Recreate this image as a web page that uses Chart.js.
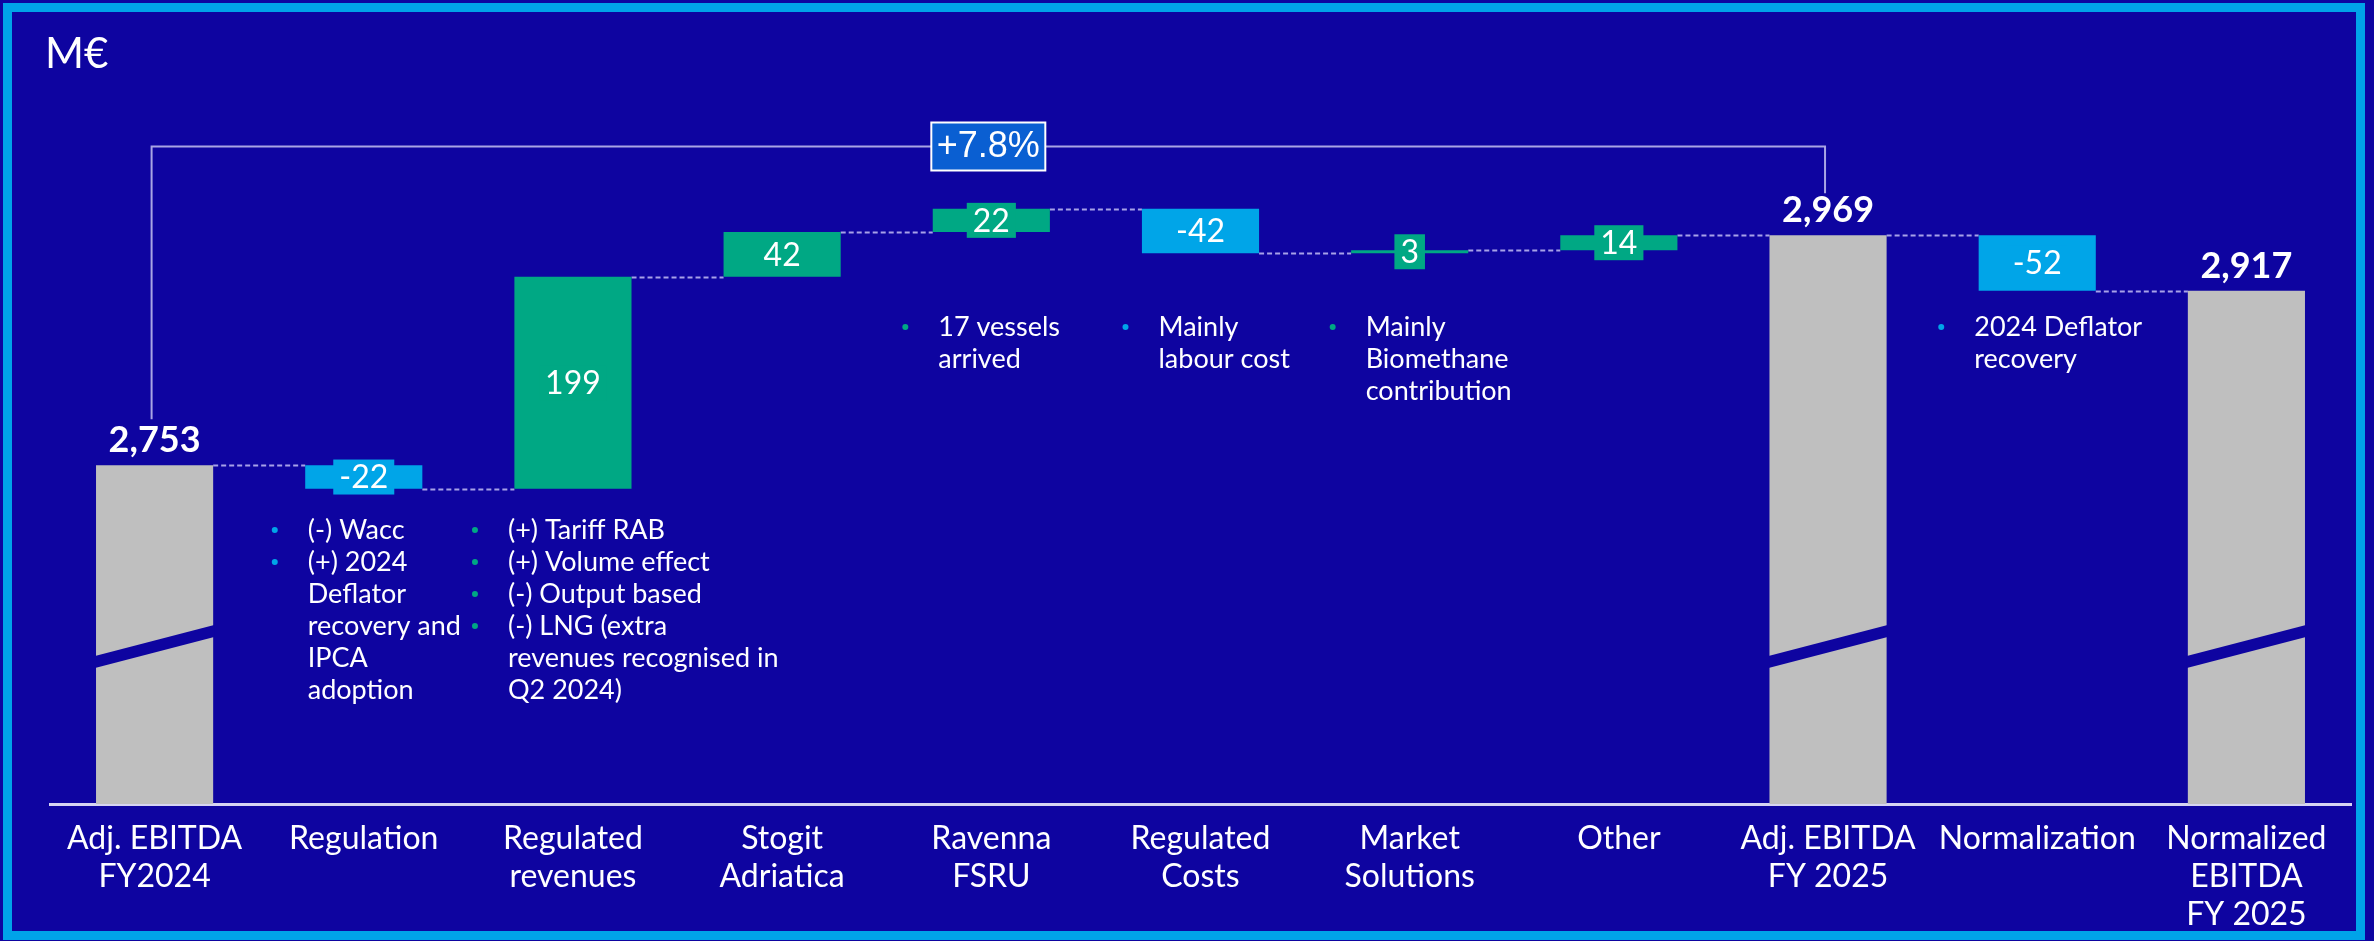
<!DOCTYPE html>
<html>
<head>
<meta charset="utf-8">
<script src="https://cdn.jsdelivr.net/npm/chart.js@4.4.1/dist/chart.umd.min.js"></script>
<style>
    html, body { margin: 0; padding: 0; background: #0E04A0; }
    #wrap { position: relative; width: 2374px; height: 941px; }
    #frame {
        position: absolute; left: 3px; top: 3px; width: 2362px; height: 937px;
        box-sizing: border-box; border: 9px solid #00A3E9; pointer-events: none;
    }
</style>
</head>
<body>
<div id="wrap">
    <canvas id="bridge"></canvas>
    <div id="frame"></div>
</div>
<script>
// chart data
const categories = [
    ["Adj. EBITDA", "FY2024"], "Regulation", ["Regulated", "revenues"], ["Stogit", "Adriatica"],
    ["Ravenna", "FSRU"], ["Regulated", "Costs"], ["Market", "Solutions"], "Other",
    ["Adj. EBITDA", "FY 2025"], "Normalization", ["Normalized", "EBITDA", "FY 2025"]
];
const totals = [2753, null, null, null, null, null, null, null, 2969, null, 2917];
const deltas = [null, -22, 199, 42, 22, -42, 3, 14, null, -52, null];
const growthLabel = "+7.8%";
const unitLabel = "M€";

// bullet notes under the bars (each bullet may wrap on several lines)
const notes = [
    null,
    [["(-) Wacc"], ["(+) 2024", "Deflator", "recovery and", "IPCA", "adoption"]],
    [["(+) Tariff RAB"], ["(+) Volume effect"], ["(-) Output based"], ["(-) LNG (extra", "revenues recognised in", "Q2 2024)"]],
    null,
    [["17 vessels", "arrived"]],
    [["Mainly", "labour cost"]],
    [["Mainly", "Biomethane", "contribution"]],
    null,
    null,
    [["2024 Deflator", "recovery"]],
    null
];

const BG = "#0E04A0";
const GREY = "#BFBFBF";
const GREEN = "#00A884";
const BLUE = "#00A5E8";
const DASH = "#A7A2E8";
const Y_MIN = 2435;
const Y_MAX = 3096;

// floating bars for the bridge
const bars = [];
const ends = [];
let running = 0;
for (let i = 0; i < categories.length; i++) {
    if (totals[i] !== null) {
        bars.push([Y_MIN, totals[i]]);
        running = totals[i];
    } else {
        bars.push([running, running + deltas[i]]);
        running += deltas[i];
    }
    ends.push(running);
}
const colors = categories.map((c, i) => totals[i] !== null ? GREY : (deltas[i] >= 0 ? GREEN : BLUE));

// where the notes sit: x offset from the category centre, y of the first line
const notePlace = {
    1: { dx: -56, y: 530, dot: BLUE },
    2: { dx: -65, y: 530, dot: GREEN },
    4: { dx: -53, y: 327, dot: GREEN },
    5: { dx: -42, y: 327, dot: BLUE },
    6: { dx: -44, y: 327, dot: GREEN },
    9: { dx: -63, y: 327, dot: BLUE }
};

const bridgePlugin = {
    id: "bridge",
    beforeDatasetsDraw(chart) {
        const ctx = chart.ctx;
        const meta = chart.getDatasetMeta(0);
        const yScale = chart.scales.y;
        ctx.save();
        // dashed connectors between bars
        ctx.strokeStyle = DASH;
        ctx.lineWidth = 2;
        ctx.setLineDash([5, 3]);
        for (let i = 0; i < meta.data.length - 1; i++) {
            const a = meta.data[i], b = meta.data[i + 1];
            const y = Math.round(yScale.getPixelForValue(ends[i])) + 0.5;
            ctx.beginPath();
            ctx.moveTo(a.x + a.width / 2, y);
            ctx.lineTo(b.x - b.width / 2, y);
            ctx.stroke();
        }
        ctx.restore();
    },
    afterDatasetsDraw(chart) {
        const ctx = chart.ctx;
        const meta = chart.getDatasetMeta(0);
        const area = chart.chartArea;
        ctx.save();

        // unit label
        ctx.fillStyle = "#FFFFFF";
        ctx.font = "42px Lato";
        ctx.textAlign = "left";
        ctx.textBaseline = "alphabetic";
        ctx.fillText(unitLabel, 45, 68);

        meta.data.forEach((el, i) => {
            const left = el.x - el.width / 2, right = el.x + el.width / 2;
            const top = Math.min(el.y, el.base), bottom = Math.max(el.y, el.base);
            if (totals[i] !== null) {
                // axis break stripe
                const b = area.bottom;
                ctx.fillStyle = BG;
                ctx.beginPath();
                ctx.moveTo(left - 1, b - 148);
                ctx.lineTo(right + 1, b - 179);
                ctx.lineTo(right + 1, b - 167);
                ctx.lineTo(left - 1, b - 136);
                ctx.closePath();
                ctx.fill();
                ctx.fillStyle = "#FFFFFF";
                ctx.font = "bold 36px Lato";
                ctx.textAlign = "center";
                ctx.textBaseline = "alphabetic";
                ctx.fillText(totals[i].toLocaleString("en-US"), el.x, top - 13);
            } else {
                const txt = String(deltas[i]);
                ctx.font = "32px Lato";
                const tw = ctx.measureText(txt).width;
                const cy = (top + bottom) / 2;
                ctx.fillStyle = colors[i];
                ctx.fillRect(el.x - tw / 2 - 6, cy - 17.5, tw + 12, 35);
                ctx.fillStyle = "#FFFFFF";
                ctx.textAlign = "center";
                ctx.textBaseline = "middle";
                ctx.fillText(txt, el.x, cy + 1);
            }
        });

        // growth bracket from first to second total
        const a = meta.data[0], b = meta.data[8];
        const bracketY = 146.5;
        ctx.strokeStyle = "#A9A5E4";
        ctx.lineWidth = 2;
        ctx.beginPath();
        ctx.moveTo(a.x - 3, a.y - 46);
        ctx.lineTo(a.x - 3, bracketY);
        ctx.lineTo(b.x - 3, bracketY);
        ctx.lineTo(b.x - 3, b.y - 42);
        ctx.stroke();
        const mx = (a.x + b.x) / 2 - 3;
        ctx.fillStyle = "#0A5FD2";
        ctx.fillRect(mx - 57, bracketY - 24, 114, 48);
        ctx.strokeStyle = "#FFFFFF";
        ctx.lineWidth = 2;
        ctx.strokeRect(mx - 57, bracketY - 24, 114, 48);
        ctx.fillStyle = "#FFFFFF";
        ctx.font = "36px 'Liberation Sans'";
        ctx.textAlign = "center";
        ctx.textBaseline = "middle";
        ctx.fillText(growthLabel, mx, bracketY + 1);

        // bullet notes
        ctx.font = "27px Lato";
        ctx.textAlign = "left";
        ctx.textBaseline = "middle";
        Object.keys(notePlace).forEach(k => {
            const p = notePlace[k];
            const el = meta.data[k];
            const tx = el.x + p.dx;
            let y = p.y;
            notes[k].forEach(bullet => {
                ctx.fillStyle = p.dot;
                ctx.beginPath();
                ctx.arc(tx - 33, y, 3, 0, Math.PI * 2);
                ctx.fill();
                ctx.fillStyle = "#FFFFFF";
                bullet.forEach(line => {
                    ctx.fillText(line, tx, y);
                    y += 32;
                });
            });
        });
        ctx.restore();
    }
};

function build() {
    const ctx = document.getElementById("bridge").getContext("2d");
    new Chart(ctx, {
        type: "bar",
        data: {
            labels: categories,
            datasets: [{
                data: bars,
                backgroundColor: colors,
                borderWidth: 0,
                borderSkipped: false,
                barPercentage: 0.56,
                categoryPercentage: 1
            }]
        },
        options: {
            responsive: true,
            maintainAspectRatio: false,
            animation: false,
            devicePixelRatio: 1,
            layout: { padding: { left: 50, right: 23, top: 100, bottom: 0 } },
            plugins: { legend: { display: false }, tooltip: { enabled: false } },
            scales: {
                x: {
                    grid: { display: false },
                    border: { display: true, color: "#D6D4F2", width: 3 },
                    ticks: {
                        color: "#FFFFFF",
                        font: { family: "Lato", size: 32, lineHeight: "38px" },
                        padding: 8,
                        autoSkip: false,
                        maxRotation: 0,
                        minRotation: 0
                    },
                    afterFit(scale) { scale.height = 137; }
                },
                y: {
                    display: false,
                    min: Y_MIN,
                    max: Y_MAX
                }
            }
        },
        plugins: [bridgePlugin]
    });
}

if (document.fonts && document.fonts.load) {
    Promise.all([
        document.fonts.load("32px Lato"),
        document.fonts.load("bold 36px Lato"),
        document.fonts.load("36px 'Liberation Sans'")
    ]).then(build, build);
} else {
    build();
}
</script>
</body>
</html>
